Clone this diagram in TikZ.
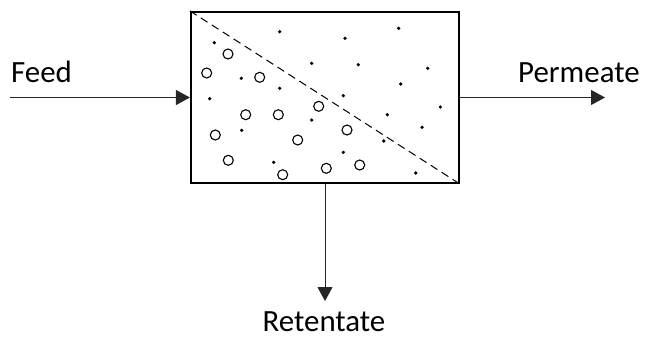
\documentclass[tikz,border=0pt]{standalone}
\usepackage{fontspec}
\setmainfont{Carlito}
\usepackage{tikz}
\usetikzlibrary{arrows.meta,positioning,calc}

\begin{document}
\begin{tikzpicture}[
  x=1bp,y=-1bp,
  font=\fontsize{31}{36}\selectfont,
  unit/.style={draw=black,line width=2.2bp,minimum width=268bp,minimum height=171bp,inner sep=0pt},
  lbl/.style={inner sep=0pt},
  arr/.style={-{Triangle[length=14bp,width=15bp]},line width=1bp,draw=black!85,fill=black},
  split/.style={line width=1bp,dash pattern=on 8bp off 5bp},
  small/.style={fill=black,circle,inner sep=0pt,minimum size=3.6bp},
  big/.style={draw=black,line width=1.1bp,circle,inner sep=0pt,minimum size=10bp}
]
\useasboundingbox (0,0) rectangle (646,339);
\node[unit] (mem) at (325,97.5) {};
\draw[split] (mem.north west)--(mem.south east);
% solutes passing through
\foreach \px/\py in {279.7/31.7,345/38.3,398.7/28.3,214.3/42.7,311.7/63.3,358.3/64.7,427.7/68.3,241.3/78.3,279.7/88.3,400.7/84,209.7/98.7,343.3/95.7,440.3/107,387.3/114.7,311.7/120,241.7/130.3,422/127.3,383.7/141,343.3/152.3,273.7/162.3,415.7/173}
  \node[small] at (\px,\py) {};
% retained particles
\foreach \px/\py in {228/54,206.7/73,259.7/77.3,318.7/106.3,245.7/114.7,278.3/114.7,215.3/135,347/130,297.7/140,228.3/160.3,282.7/174.7,326.3/168.3,359.7/165}
  \node[big] at (\px,\py) {};
\coordinate (in) at (10,97.5);
\coordinate (out) at (605,97.5);
\coordinate (down) at (325,301);
\draw[arr] (in)--(mem.west);
\draw[arr] (mem.east)--(out);
\draw[arr] (mem.south)--(down);
\node[lbl,anchor=base west] (feed) at (11,82) {Feed};
\node[lbl,anchor=base west] (perm) at (518,82) {Permeate};
\node[lbl,anchor=base] (ret) at (324,331) {Retentate};
\end{tikzpicture}
\end{document}
